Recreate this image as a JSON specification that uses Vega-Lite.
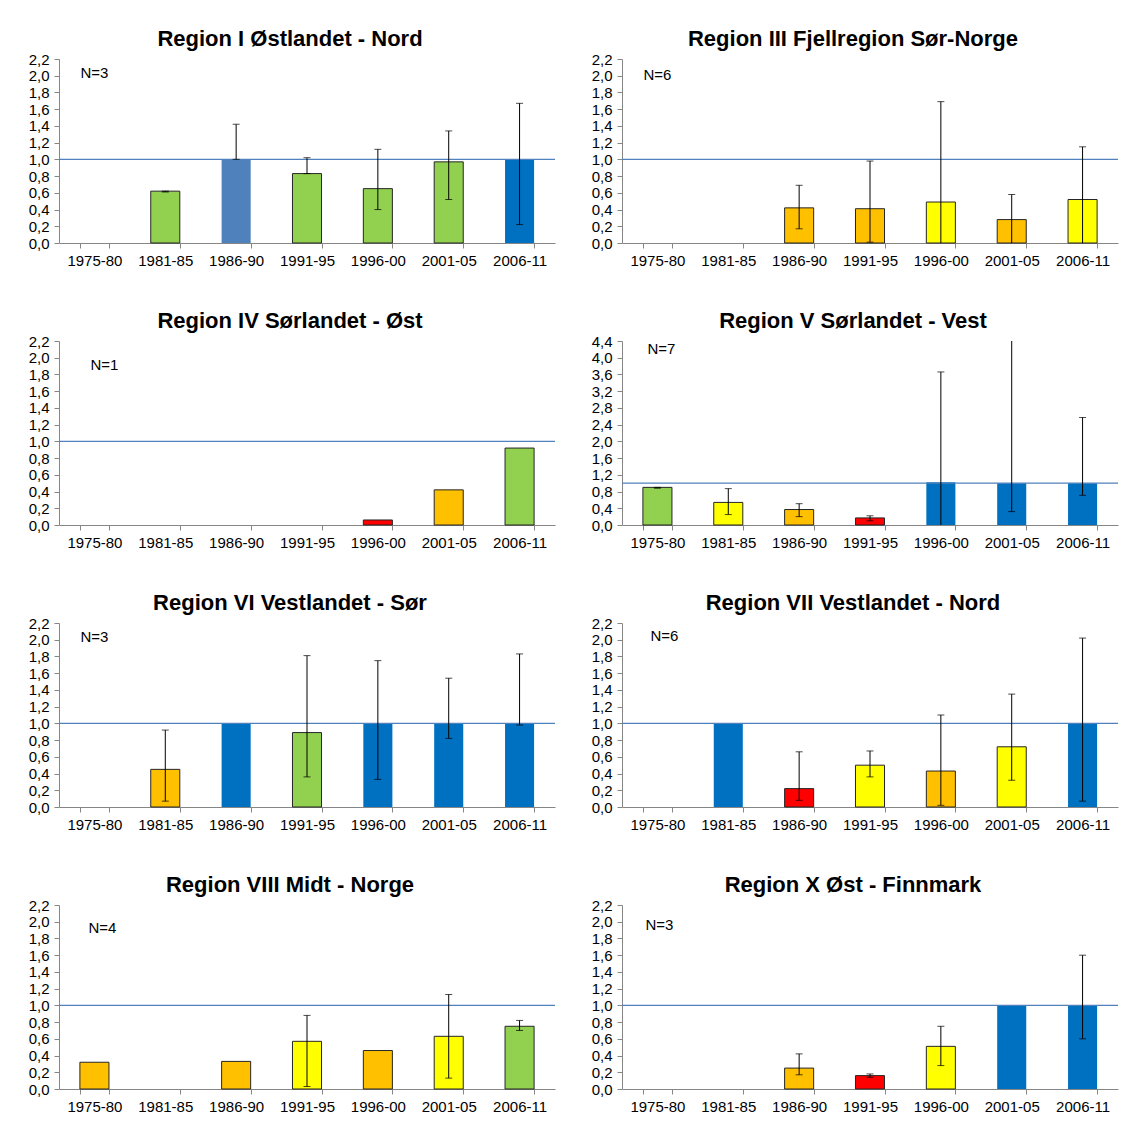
{
"$schema": "https://vega.github.io/schema/vega-lite/v6.json",
"background": "white",
"padding": {"left": 28, "top": 28, "right": 0, "bottom": 0},
"config": {
  "view": {"stroke": null},
  "font": "Liberation Sans",
  "title": {"font": "Liberation Sans", "fontSize": 22, "fontWeight": "bold", "color": "#000", "anchor": "middle", "offset": 1, "dx": -17},
  "axis": {"labelFont": "Liberation Sans", "labelFontSize": 15, "labelColor": "#000", "domainColor": "#868686", "tickColor": "#868686", "grid": false, "tickSize": 5, "labelOverlap": false},
  "axisX": {"labelAngle": 0, "tickBand": "extent", "labelPadding": 5},
  "axisY": {"labelPadding": 5, "labelOverlap": false, "labelExpr": "replace(format(datum.value, '.1f'), '.', ',')"}
},
"datasets": {
  "bars": [
    {"region": "I", "period": "1981-85", "value": 0.62, "klasse": "god", "lo": 0.61, "hi": 0.62},
    {"region": "I", "period": "1986-90", "value": 1.0, "klasse": "referanse_a", "lo": 1.0, "hi": 1.42},
    {"region": "I", "period": "1991-95", "value": 0.83, "klasse": "god", "lo": 0.83, "hi": 1.02},
    {"region": "I", "period": "1996-00", "value": 0.65, "klasse": "god", "lo": 0.40, "hi": 1.12},
    {"region": "I", "period": "2001-05", "value": 0.97, "klasse": "god", "lo": 0.52, "hi": 1.34},
    {"region": "I", "period": "2006-11", "value": 1.0, "klasse": "referanse", "lo": 0.22, "hi": 1.67},
    {"region": "III", "period": "1986-90", "value": 0.42, "klasse": "dårlig", "lo": 0.17, "hi": 0.69},
    {"region": "III", "period": "1991-95", "value": 0.41, "klasse": "dårlig", "lo": 0.01, "hi": 0.98},
    {"region": "III", "period": "1996-00", "value": 0.49, "klasse": "moderat", "lo": 0.0, "hi": 1.69},
    {"region": "III", "period": "2001-05", "value": 0.28, "klasse": "dårlig", "lo": 0.0, "hi": 0.58},
    {"region": "III", "period": "2006-11", "value": 0.52, "klasse": "moderat", "lo": 0.0, "hi": 1.15},
    {"region": "IV", "period": "1996-00", "value": 0.06, "klasse": "svært dårlig"},
    {"region": "IV", "period": "2001-05", "value": 0.42, "klasse": "dårlig"},
    {"region": "IV", "period": "2006-11", "value": 0.92, "klasse": "god"},
    {"region": "V", "period": "1975-80", "value": 0.90, "klasse": "god", "lo": 0.88, "hi": 0.90},
    {"region": "V", "period": "1981-85", "value": 0.54, "klasse": "moderat", "lo": 0.25, "hi": 0.87},
    {"region": "V", "period": "1986-90", "value": 0.37, "klasse": "dårlig", "lo": 0.20, "hi": 0.51},
    {"region": "V", "period": "1991-95", "value": 0.17, "klasse": "svært dårlig", "lo": 0.10, "hi": 0.22},
    {"region": "V", "period": "1996-00", "value": 1.02, "klasse": "referanse", "lo": 0.0, "hi": 3.66},
    {"region": "V", "period": "2001-05", "value": 1.0, "klasse": "referanse", "lo": 0.32, "hi": 4.46},
    {"region": "V", "period": "2006-11", "value": 1.0, "klasse": "referanse", "lo": 0.71, "hi": 2.57},
    {"region": "VI", "period": "1981-85", "value": 0.45, "klasse": "dårlig", "lo": 0.07, "hi": 0.92},
    {"region": "VI", "period": "1986-90", "value": 1.0, "klasse": "referanse"},
    {"region": "VI", "period": "1991-95", "value": 0.89, "klasse": "god", "lo": 0.36, "hi": 1.81},
    {"region": "VI", "period": "1996-00", "value": 1.0, "klasse": "referanse", "lo": 0.33, "hi": 1.75},
    {"region": "VI", "period": "2001-05", "value": 1.0, "klasse": "referanse", "lo": 0.82, "hi": 1.54},
    {"region": "VI", "period": "2006-11", "value": 1.0, "klasse": "referanse", "lo": 0.98, "hi": 1.83},
    {"region": "VII", "period": "1981-85", "value": 1.0, "klasse": "referanse"},
    {"region": "VII", "period": "1986-90", "value": 0.22, "klasse": "svært dårlig", "lo": 0.08, "hi": 0.66},
    {"region": "VII", "period": "1991-95", "value": 0.50, "klasse": "moderat", "lo": 0.36, "hi": 0.67},
    {"region": "VII", "period": "1996-00", "value": 0.43, "klasse": "dårlig", "lo": 0.02, "hi": 1.10},
    {"region": "VII", "period": "2001-05", "value": 0.72, "klasse": "moderat", "lo": 0.32, "hi": 1.35},
    {"region": "VII", "period": "2006-11", "value": 1.0, "klasse": "referanse", "lo": 0.07, "hi": 2.02},
    {"region": "VIII", "period": "1975-80", "value": 0.32, "klasse": "dårlig"},
    {"region": "VIII", "period": "1986-90", "value": 0.33, "klasse": "dårlig"},
    {"region": "VIII", "period": "1991-95", "value": 0.57, "klasse": "moderat", "lo": 0.03, "hi": 0.88},
    {"region": "VIII", "period": "1996-00", "value": 0.46, "klasse": "dårlig"},
    {"region": "VIII", "period": "2001-05", "value": 0.63, "klasse": "moderat", "lo": 0.13, "hi": 1.13},
    {"region": "VIII", "period": "2006-11", "value": 0.75, "klasse": "god", "lo": 0.70, "hi": 0.82},
    {"region": "X", "period": "1986-90", "value": 0.25, "klasse": "dårlig", "lo": 0.17, "hi": 0.42},
    {"region": "X", "period": "1991-95", "value": 0.16, "klasse": "svært dårlig", "lo": 0.14, "hi": 0.18},
    {"region": "X", "period": "1996-00", "value": 0.51, "klasse": "moderat", "lo": 0.28, "hi": 0.75},
    {"region": "X", "period": "2001-05", "value": 1.0, "klasse": "referanse"},
    {"region": "X", "period": "2006-11", "value": 1.0, "klasse": "referanse", "lo": 0.60, "hi": 1.60}
  ]
},
"columns": 2,
"spacing": {"row": 42, "column": 35},
"concat": [
  {"title": "Region I Østlandet - Nord", "width": 496, "height": 184,
   "layer": [
    {"data": {"name": "bars"}, "transform": [{"filter": "datum.region == 'I'"}],
     "mark": {"type": "bar", "strokeWidth": 1},
     "encoding": {
      "x": {"field": "period", "type": "nominal", "title": null, "scale": {"domain": ["1975-80","1981-85","1986-90","1991-95","1996-00","2001-05","2006-11"], "paddingInner": 0.59, "paddingOuter": 0.295}},
      "y": {"field": "value", "type": "quantitative", "title": null, "scale": {"domain": [0, 2.2], "nice": false}, "axis": {"values": [0,0.2,0.4,0.6,0.8,1.0,1.2,1.4,1.6,1.8,2.0,2.2], "tickCount": 20, "labelOverlap": false}},
      "color": {"field": "klasse", "type": "nominal", "legend": null, "scale": {"domain": ["god","moderat","dårlig","svært dårlig","referanse","referanse_a"], "range": ["#92D050","#FFFF00","#FFC000","#FF0000","#0070C0","#4F81BD"]}},
      "stroke": {"condition": {"test": "indexof(datum.klasse, 'referanse') >= 0", "value": "transparent"}, "value": "#262626"}
     }},
    {"data": {"values": [{"ref": 1}]}, "mark": {"type": "rule", "color": "#4F81BD", "strokeWidth": 1.3}, "encoding": {"y": {"field": "ref", "type": "quantitative"}}},
    {"data": {"name": "bars"}, "transform": [{"filter": "datum.region == 'I' && isValid(datum.hi)"}],
     "mark": {"type": "rule", "color": "#000", "strokeWidth": 1},
     "encoding": {"x": {"field": "period", "type": "nominal"}, "y": {"field": "lo", "type": "quantitative"}, "y2": {"field": "hi"}}},
    {"data": {"name": "bars"}, "transform": [{"filter": "datum.region == 'I' && isValid(datum.hi) && datum.lo > 0"}],
     "mark": {"type": "tick", "color": "#000", "size": 7, "thickness": 1, "orient": "horizontal"},
     "encoding": {"x": {"field": "period", "type": "nominal"}, "y": {"field": "lo", "type": "quantitative"}}},
    {"data": {"name": "bars"}, "transform": [{"filter": "datum.region == 'I' && isValid(datum.hi)"}],
     "mark": {"type": "tick", "color": "#000", "size": 7, "thickness": 1, "orient": "horizontal"},
     "encoding": {"x": {"field": "period", "type": "nominal"}, "y": {"field": "hi", "type": "quantitative"}}},
    {"data": {"values": [{"label": "N=3"}]}, "mark": {"type": "text", "fontSize": 15, "color": "#000"},
     "encoding": {"x": {"datum": "1975-80", "type": "nominal"}, "y": {"datum": 2.03, "type": "quantitative"}, "text": {"field": "label"}}}
   ]},
  {"title": "Region III Fjellregion Sør-Norge", "width": 496, "height": 184,
   "layer": [
    {"data": {"name": "bars"}, "transform": [{"filter": "datum.region == 'III'"}],
     "mark": {"type": "bar", "strokeWidth": 1},
     "encoding": {
      "x": {"field": "period", "type": "nominal", "title": null, "scale": {"domain": ["1975-80","1981-85","1986-90","1991-95","1996-00","2001-05","2006-11"], "paddingInner": 0.59, "paddingOuter": 0.295}},
      "y": {"field": "value", "type": "quantitative", "title": null, "scale": {"domain": [0, 2.2], "nice": false}, "axis": {"values": [0,0.2,0.4,0.6,0.8,1.0,1.2,1.4,1.6,1.8,2.0,2.2], "tickCount": 20, "labelOverlap": false}},
      "color": {"field": "klasse", "type": "nominal", "legend": null, "scale": {"domain": ["god","moderat","dårlig","svært dårlig","referanse","referanse_a"], "range": ["#92D050","#FFFF00","#FFC000","#FF0000","#0070C0","#4F81BD"]}},
      "stroke": {"condition": {"test": "indexof(datum.klasse, 'referanse') >= 0", "value": "transparent"}, "value": "#262626"}
     }},
    {"data": {"values": [{"ref": 1}]}, "mark": {"type": "rule", "color": "#4F81BD", "strokeWidth": 1.3}, "encoding": {"y": {"field": "ref", "type": "quantitative"}}},
    {"data": {"name": "bars"}, "transform": [{"filter": "datum.region == 'III' && isValid(datum.hi)"}],
     "mark": {"type": "rule", "color": "#000", "strokeWidth": 1},
     "encoding": {"x": {"field": "period", "type": "nominal"}, "y": {"field": "lo", "type": "quantitative"}, "y2": {"field": "hi"}}},
    {"data": {"name": "bars"}, "transform": [{"filter": "datum.region == 'III' && isValid(datum.hi) && datum.lo > 0"}],
     "mark": {"type": "tick", "color": "#000", "size": 7, "thickness": 1, "orient": "horizontal"},
     "encoding": {"x": {"field": "period", "type": "nominal"}, "y": {"field": "lo", "type": "quantitative"}}},
    {"data": {"name": "bars"}, "transform": [{"filter": "datum.region == 'III' && isValid(datum.hi)"}],
     "mark": {"type": "tick", "color": "#000", "size": 7, "thickness": 1, "orient": "horizontal"},
     "encoding": {"x": {"field": "period", "type": "nominal"}, "y": {"field": "hi", "type": "quantitative"}}},
    {"data": {"values": [{"label": "N=6"}]}, "mark": {"type": "text", "fontSize": 15, "color": "#000"},
     "encoding": {"x": {"datum": "1975-80", "type": "nominal"}, "y": {"datum": 2.01, "type": "quantitative"}, "text": {"field": "label"}}}
   ]},
  {"title": "Region IV Sørlandet - Øst", "width": 496, "height": 184,
   "layer": [
    {"data": {"name": "bars"}, "transform": [{"filter": "datum.region == 'IV'"}],
     "mark": {"type": "bar", "strokeWidth": 1},
     "encoding": {
      "x": {"field": "period", "type": "nominal", "title": null, "scale": {"domain": ["1975-80","1981-85","1986-90","1991-95","1996-00","2001-05","2006-11"], "paddingInner": 0.59, "paddingOuter": 0.295}},
      "y": {"field": "value", "type": "quantitative", "title": null, "scale": {"domain": [0, 2.2], "nice": false}, "axis": {"values": [0,0.2,0.4,0.6,0.8,1.0,1.2,1.4,1.6,1.8,2.0,2.2], "tickCount": 20, "labelOverlap": false}},
      "color": {"field": "klasse", "type": "nominal", "legend": null, "scale": {"domain": ["god","moderat","dårlig","svært dårlig","referanse","referanse_a"], "range": ["#92D050","#FFFF00","#FFC000","#FF0000","#0070C0","#4F81BD"]}},
      "stroke": {"condition": {"test": "indexof(datum.klasse, 'referanse') >= 0", "value": "transparent"}, "value": "#262626"}
     }},
    {"data": {"values": [{"ref": 1}]}, "mark": {"type": "rule", "color": "#4F81BD", "strokeWidth": 1.3}, "encoding": {"y": {"field": "ref", "type": "quantitative"}}},
    {"data": {"values": [{"label": "N=1"}]}, "mark": {"type": "text", "fontSize": 15, "color": "#000", "dx": 10},
     "encoding": {"x": {"datum": "1975-80", "type": "nominal"}, "y": {"datum": 1.91, "type": "quantitative"}, "text": {"field": "label"}}}
   ]},
  {"title": "Region V Sørlandet - Vest", "width": 496, "height": 184,
   "layer": [
    {"data": {"name": "bars"}, "transform": [{"filter": "datum.region == 'V'"}],
     "mark": {"type": "bar", "strokeWidth": 1},
     "encoding": {
      "x": {"field": "period", "type": "nominal", "title": null, "scale": {"domain": ["1975-80","1981-85","1986-90","1991-95","1996-00","2001-05","2006-11"], "paddingInner": 0.59, "paddingOuter": 0.295}},
      "y": {"field": "value", "type": "quantitative", "title": null, "scale": {"domain": [0, 4.4], "nice": false}, "axis": {"values": [0,0.4,0.8,1.2,1.6,2.0,2.4,2.8,3.2,3.6,4.0,4.4], "tickCount": 20, "labelOverlap": false}},
      "color": {"field": "klasse", "type": "nominal", "legend": null, "scale": {"domain": ["god","moderat","dårlig","svært dårlig","referanse","referanse_a"], "range": ["#92D050","#FFFF00","#FFC000","#FF0000","#0070C0","#4F81BD"]}},
      "stroke": {"condition": {"test": "indexof(datum.klasse, 'referanse') >= 0", "value": "transparent"}, "value": "#262626"}
     }},
    {"data": {"values": [{"ref": 1}]}, "mark": {"type": "rule", "color": "#4F81BD", "strokeWidth": 1.3}, "encoding": {"y": {"field": "ref", "type": "quantitative"}}},
    {"data": {"name": "bars"}, "transform": [{"filter": "datum.region == 'V' && isValid(datum.hi)"}],
     "mark": {"type": "rule", "color": "#000", "strokeWidth": 1, "clip": true},
     "encoding": {"x": {"field": "period", "type": "nominal"}, "y": {"field": "lo", "type": "quantitative"}, "y2": {"field": "hi"}}},
    {"data": {"name": "bars"}, "transform": [{"filter": "datum.region == 'V' && isValid(datum.hi) && datum.lo > 0"}],
     "mark": {"type": "tick", "color": "#000", "size": 7, "thickness": 1, "orient": "horizontal"},
     "encoding": {"x": {"field": "period", "type": "nominal"}, "y": {"field": "lo", "type": "quantitative"}}},
    {"data": {"name": "bars"}, "transform": [{"filter": "datum.region == 'V' && isValid(datum.hi)"}],
     "mark": {"type": "tick", "color": "#000", "size": 7, "thickness": 1, "orient": "horizontal", "clip": true},
     "encoding": {"x": {"field": "period", "type": "nominal"}, "y": {"field": "hi", "type": "quantitative"}}},
    {"data": {"values": [{"label": "N=7"}]}, "mark": {"type": "text", "fontSize": 15, "color": "#000", "dx": 4},
     "encoding": {"x": {"datum": "1975-80", "type": "nominal"}, "y": {"datum": 4.2, "type": "quantitative"}, "text": {"field": "label"}}}
   ]},
  {"title": "Region VI Vestlandet - Sør", "width": 496, "height": 184,
   "layer": [
    {"data": {"name": "bars"}, "transform": [{"filter": "datum.region == 'VI'"}],
     "mark": {"type": "bar", "strokeWidth": 1},
     "encoding": {
      "x": {"field": "period", "type": "nominal", "title": null, "scale": {"domain": ["1975-80","1981-85","1986-90","1991-95","1996-00","2001-05","2006-11"], "paddingInner": 0.59, "paddingOuter": 0.295}},
      "y": {"field": "value", "type": "quantitative", "title": null, "scale": {"domain": [0, 2.2], "nice": false}, "axis": {"values": [0,0.2,0.4,0.6,0.8,1.0,1.2,1.4,1.6,1.8,2.0,2.2], "tickCount": 20, "labelOverlap": false}},
      "color": {"field": "klasse", "type": "nominal", "legend": null, "scale": {"domain": ["god","moderat","dårlig","svært dårlig","referanse","referanse_a"], "range": ["#92D050","#FFFF00","#FFC000","#FF0000","#0070C0","#4F81BD"]}},
      "stroke": {"condition": {"test": "indexof(datum.klasse, 'referanse') >= 0", "value": "transparent"}, "value": "#262626"}
     }},
    {"data": {"values": [{"ref": 1}]}, "mark": {"type": "rule", "color": "#4F81BD", "strokeWidth": 1.3}, "encoding": {"y": {"field": "ref", "type": "quantitative"}}},
    {"data": {"name": "bars"}, "transform": [{"filter": "datum.region == 'VI' && isValid(datum.hi)"}],
     "mark": {"type": "rule", "color": "#000", "strokeWidth": 1},
     "encoding": {"x": {"field": "period", "type": "nominal"}, "y": {"field": "lo", "type": "quantitative"}, "y2": {"field": "hi"}}},
    {"data": {"name": "bars"}, "transform": [{"filter": "datum.region == 'VI' && isValid(datum.hi) && datum.lo > 0"}],
     "mark": {"type": "tick", "color": "#000", "size": 7, "thickness": 1, "orient": "horizontal"},
     "encoding": {"x": {"field": "period", "type": "nominal"}, "y": {"field": "lo", "type": "quantitative"}}},
    {"data": {"name": "bars"}, "transform": [{"filter": "datum.region == 'VI' && isValid(datum.hi)"}],
     "mark": {"type": "tick", "color": "#000", "size": 7, "thickness": 1, "orient": "horizontal"},
     "encoding": {"x": {"field": "period", "type": "nominal"}, "y": {"field": "hi", "type": "quantitative"}}},
    {"data": {"values": [{"label": "N=3"}]}, "mark": {"type": "text", "fontSize": 15, "color": "#000"},
     "encoding": {"x": {"datum": "1975-80", "type": "nominal"}, "y": {"datum": 2.03, "type": "quantitative"}, "text": {"field": "label"}}}
   ]},
  {"title": "Region VII Vestlandet - Nord", "width": 496, "height": 184,
   "layer": [
    {"data": {"name": "bars"}, "transform": [{"filter": "datum.region == 'VII'"}],
     "mark": {"type": "bar", "strokeWidth": 1},
     "encoding": {
      "x": {"field": "period", "type": "nominal", "title": null, "scale": {"domain": ["1975-80","1981-85","1986-90","1991-95","1996-00","2001-05","2006-11"], "paddingInner": 0.59, "paddingOuter": 0.295}},
      "y": {"field": "value", "type": "quantitative", "title": null, "scale": {"domain": [0, 2.2], "nice": false}, "axis": {"values": [0,0.2,0.4,0.6,0.8,1.0,1.2,1.4,1.6,1.8,2.0,2.2], "tickCount": 20, "labelOverlap": false}},
      "color": {"field": "klasse", "type": "nominal", "legend": null, "scale": {"domain": ["god","moderat","dårlig","svært dårlig","referanse","referanse_a"], "range": ["#92D050","#FFFF00","#FFC000","#FF0000","#0070C0","#4F81BD"]}},
      "stroke": {"condition": {"test": "indexof(datum.klasse, 'referanse') >= 0", "value": "transparent"}, "value": "#262626"}
     }},
    {"data": {"values": [{"ref": 1}]}, "mark": {"type": "rule", "color": "#4F81BD", "strokeWidth": 1.3}, "encoding": {"y": {"field": "ref", "type": "quantitative"}}},
    {"data": {"name": "bars"}, "transform": [{"filter": "datum.region == 'VII' && isValid(datum.hi)"}],
     "mark": {"type": "rule", "color": "#000", "strokeWidth": 1},
     "encoding": {"x": {"field": "period", "type": "nominal"}, "y": {"field": "lo", "type": "quantitative"}, "y2": {"field": "hi"}}},
    {"data": {"name": "bars"}, "transform": [{"filter": "datum.region == 'VII' && isValid(datum.hi) && datum.lo > 0"}],
     "mark": {"type": "tick", "color": "#000", "size": 7, "thickness": 1, "orient": "horizontal"},
     "encoding": {"x": {"field": "period", "type": "nominal"}, "y": {"field": "lo", "type": "quantitative"}}},
    {"data": {"name": "bars"}, "transform": [{"filter": "datum.region == 'VII' && isValid(datum.hi)"}],
     "mark": {"type": "tick", "color": "#000", "size": 7, "thickness": 1, "orient": "horizontal"},
     "encoding": {"x": {"field": "period", "type": "nominal"}, "y": {"field": "hi", "type": "quantitative"}}},
    {"data": {"values": [{"label": "N=6"}]}, "mark": {"type": "text", "fontSize": 15, "color": "#000", "dx": 7},
     "encoding": {"x": {"datum": "1975-80", "type": "nominal"}, "y": {"datum": 2.05, "type": "quantitative"}, "text": {"field": "label"}}}
   ]},
  {"title": "Region VIII Midt - Norge", "width": 496, "height": 184,
   "layer": [
    {"data": {"name": "bars"}, "transform": [{"filter": "datum.region == 'VIII'"}],
     "mark": {"type": "bar", "strokeWidth": 1},
     "encoding": {
      "x": {"field": "period", "type": "nominal", "title": null, "scale": {"domain": ["1975-80","1981-85","1986-90","1991-95","1996-00","2001-05","2006-11"], "paddingInner": 0.59, "paddingOuter": 0.295}},
      "y": {"field": "value", "type": "quantitative", "title": null, "scale": {"domain": [0, 2.2], "nice": false}, "axis": {"values": [0,0.2,0.4,0.6,0.8,1.0,1.2,1.4,1.6,1.8,2.0,2.2], "tickCount": 20, "labelOverlap": false}},
      "color": {"field": "klasse", "type": "nominal", "legend": null, "scale": {"domain": ["god","moderat","dårlig","svært dårlig","referanse","referanse_a"], "range": ["#92D050","#FFFF00","#FFC000","#FF0000","#0070C0","#4F81BD"]}},
      "stroke": {"condition": {"test": "indexof(datum.klasse, 'referanse') >= 0", "value": "transparent"}, "value": "#262626"}
     }},
    {"data": {"values": [{"ref": 1}]}, "mark": {"type": "rule", "color": "#4F81BD", "strokeWidth": 1.3}, "encoding": {"y": {"field": "ref", "type": "quantitative"}}},
    {"data": {"name": "bars"}, "transform": [{"filter": "datum.region == 'VIII' && isValid(datum.hi)"}],
     "mark": {"type": "rule", "color": "#000", "strokeWidth": 1},
     "encoding": {"x": {"field": "period", "type": "nominal"}, "y": {"field": "lo", "type": "quantitative"}, "y2": {"field": "hi"}}},
    {"data": {"name": "bars"}, "transform": [{"filter": "datum.region == 'VIII' && isValid(datum.hi) && datum.lo > 0"}],
     "mark": {"type": "tick", "color": "#000", "size": 7, "thickness": 1, "orient": "horizontal"},
     "encoding": {"x": {"field": "period", "type": "nominal"}, "y": {"field": "lo", "type": "quantitative"}}},
    {"data": {"name": "bars"}, "transform": [{"filter": "datum.region == 'VIII' && isValid(datum.hi)"}],
     "mark": {"type": "tick", "color": "#000", "size": 7, "thickness": 1, "orient": "horizontal"},
     "encoding": {"x": {"field": "period", "type": "nominal"}, "y": {"field": "hi", "type": "quantitative"}}},
    {"data": {"values": [{"label": "N=4"}]}, "mark": {"type": "text", "fontSize": 15, "color": "#000", "dx": 8},
     "encoding": {"x": {"datum": "1975-80", "type": "nominal"}, "y": {"datum": 1.93, "type": "quantitative"}, "text": {"field": "label"}}}
   ]},
  {"title": "Region X Øst - Finnmark", "width": 496, "height": 184,
   "layer": [
    {"data": {"name": "bars"}, "transform": [{"filter": "datum.region == 'X'"}],
     "mark": {"type": "bar", "strokeWidth": 1},
     "encoding": {
      "x": {"field": "period", "type": "nominal", "title": null, "scale": {"domain": ["1975-80","1981-85","1986-90","1991-95","1996-00","2001-05","2006-11"], "paddingInner": 0.59, "paddingOuter": 0.295}},
      "y": {"field": "value", "type": "quantitative", "title": null, "scale": {"domain": [0, 2.2], "nice": false}, "axis": {"values": [0,0.2,0.4,0.6,0.8,1.0,1.2,1.4,1.6,1.8,2.0,2.2], "tickCount": 20, "labelOverlap": false}},
      "color": {"field": "klasse", "type": "nominal", "legend": null, "scale": {"domain": ["god","moderat","dårlig","svært dårlig","referanse","referanse_a"], "range": ["#92D050","#FFFF00","#FFC000","#FF0000","#0070C0","#4F81BD"]}},
      "stroke": {"condition": {"test": "indexof(datum.klasse, 'referanse') >= 0", "value": "transparent"}, "value": "#262626"}
     }},
    {"data": {"values": [{"ref": 1}]}, "mark": {"type": "rule", "color": "#4F81BD", "strokeWidth": 1.3}, "encoding": {"y": {"field": "ref", "type": "quantitative"}}},
    {"data": {"name": "bars"}, "transform": [{"filter": "datum.region == 'X' && isValid(datum.hi)"}],
     "mark": {"type": "rule", "color": "#000", "strokeWidth": 1},
     "encoding": {"x": {"field": "period", "type": "nominal"}, "y": {"field": "lo", "type": "quantitative"}, "y2": {"field": "hi"}}},
    {"data": {"name": "bars"}, "transform": [{"filter": "datum.region == 'X' && isValid(datum.hi) && datum.lo > 0"}],
     "mark": {"type": "tick", "color": "#000", "size": 7, "thickness": 1, "orient": "horizontal"},
     "encoding": {"x": {"field": "period", "type": "nominal"}, "y": {"field": "lo", "type": "quantitative"}}},
    {"data": {"name": "bars"}, "transform": [{"filter": "datum.region == 'X' && isValid(datum.hi)"}],
     "mark": {"type": "tick", "color": "#000", "size": 7, "thickness": 1, "orient": "horizontal"},
     "encoding": {"x": {"field": "period", "type": "nominal"}, "y": {"field": "hi", "type": "quantitative"}}},
    {"data": {"values": [{"label": "N=3"}]}, "mark": {"type": "text", "fontSize": 15, "color": "#000", "dx": 2},
     "encoding": {"x": {"datum": "1975-80", "type": "nominal"}, "y": {"datum": 1.96, "type": "quantitative"}, "text": {"field": "label"}}}
   ]}
]
}
